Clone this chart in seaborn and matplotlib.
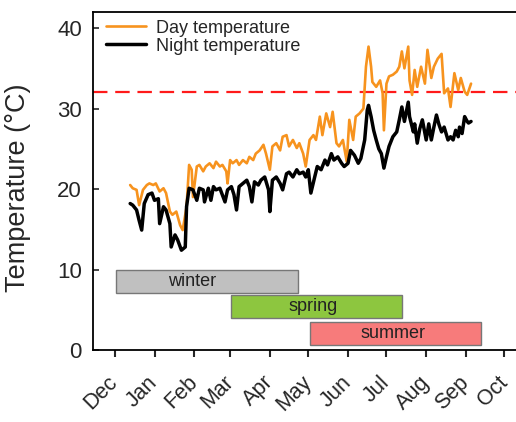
import numpy as np
import pandas as pd
import matplotlib
matplotlib.use("Agg")
import matplotlib.pyplot as plt
from matplotlib.lines import Line2D
import seaborn as sns

# ---- data (days since 1 Dec) ----
day_days = [12, 14, 17, 19, 22, 25, 27, 30, 32, 35, 38, 40, 43, 45, 48, 51, 53, 56, 58, 60,
            61, 64, 66, 69, 71, 74, 77, 79, 82, 84, 87, 88, 90, 92, 95, 97, 100, 103, 105, 108,
            110, 113, 116, 118, 121, 123, 126, 129, 131, 134, 136, 139, 142, 144, 147, 149, 152,
            155, 157, 160, 162, 165, 168, 170, 173, 175, 178, 181, 183, 186, 188, 191, 194, 196,
            198, 200, 201, 204, 207, 209, 210, 212, 214, 217, 220, 222, 224, 226, 229, 230, 232,
            234, 236, 239, 242, 244, 247, 249, 252, 255, 257, 260, 262, 265, 268, 270, 273, 275, 278]
day_temp = [20.5, 20.1, 19.9, 18.0, 19.9, 20.5, 20.7, 20.5, 20.7, 19.7, 20.1, 19.5, 17.2, 16.8,
            17.2, 15.5, 14.9, 17.8, 23.0, 22.4, 19.0, 22.8, 23.0, 22.2, 22.8, 23.2, 22.6, 23.4,
            22.8, 23.0, 22.2, 20.7, 23.6, 23.2, 23.6, 23.0, 23.6, 23.2, 24.0, 23.6, 24.4, 24.8,
            25.5, 24.4, 22.4, 25.3, 25.7, 24.8, 26.5, 26.7, 25.3, 26.1, 25.1, 25.7, 24.4, 22.8,
            26.1, 26.7, 26.1, 29.0, 26.7, 29.4, 27.7, 29.6, 25.7, 25.3, 26.1, 23.4, 28.6, 26.1,
            29.0, 29.4, 30.0, 35.2, 37.7, 35.2, 33.3, 32.7, 33.5, 31.9, 27.3, 33.1, 34.0, 34.2,
            34.6, 35.2, 37.1, 35.0, 37.7, 33.5, 31.7, 34.8, 32.7, 35.2, 33.1, 37.3, 33.8, 35.2,
            36.2, 36.8, 31.9, 32.5, 30.2, 34.4, 32.3, 33.8, 32.1, 31.7, 33.1]

night_days = [12, 14, 17, 19, 21, 23, 26, 29, 31, 34, 35, 38, 40, 43, 44, 47, 49, 52, 55, 56,
              58, 61, 64, 66, 69, 70, 73, 75, 77, 79, 82, 86, 88, 91, 93, 95, 97, 100, 103, 105,
              107, 109, 112, 114, 117, 120, 121, 123, 126, 129, 131, 134, 136, 139, 142, 144, 147,
              149, 151, 153, 156, 158, 161, 164, 166, 169, 171, 174, 177, 179, 182, 184, 187, 190,
              192, 195, 197, 198, 200, 202, 204, 206, 208, 210, 212, 214, 217, 220, 222, 224, 226,
              229, 230, 233, 234, 236, 238, 240, 243, 245, 247, 249, 251, 253, 255, 257, 260, 262,
              264, 266, 268, 269, 271, 273, 275, 276, 278]
night_temp = [18.2, 18.0, 17.4, 16.1, 14.9, 18.2, 19.3, 19.5, 18.6, 18.8, 15.7, 17.8, 17.4, 15.7,
              12.8, 14.3, 13.7, 12.4, 12.8, 17.8, 20.1, 19.9, 18.6, 20.1, 19.9, 18.4, 20.1, 18.6,
              20.3, 19.9, 20.1, 18.4, 19.9, 20.3, 19.3, 17.4, 20.3, 20.7, 21.1, 20.3, 18.4, 20.9,
              20.5, 21.1, 21.5, 19.9, 17.2, 21.1, 21.5, 20.7, 19.9, 21.9, 22.1, 21.5, 22.4, 21.9,
              22.1, 21.5, 22.4, 19.5, 21.5, 22.8, 22.4, 23.6, 23.0, 24.4, 23.6, 24.0, 23.2, 22.8,
              23.2, 24.8, 24.2, 23.2, 23.8, 26.1, 29.8, 30.4, 29.0, 27.3, 26.1, 25.0, 24.4, 22.6,
              24.0, 25.3, 26.5, 27.1, 28.6, 30.2, 28.4, 30.8, 29.0, 27.1, 28.1, 25.7, 27.5, 28.6,
              26.1, 28.1, 26.1, 27.7, 29.2, 28.0, 27.1, 27.7, 26.1, 26.5, 26.1, 27.3, 26.5, 27.7,
              26.9, 29.0, 28.4, 28.2, 28.4]

threshold = 32

months = ["Dec", "Jan", "Feb", "Mar", "Apr", "May", "Jun", "Jul", "Aug", "Sep", "Oct"]
month_lengths = [31, 31, 28, 31, 30, 31, 30, 31, 31, 30, 31]

seasons = ["winter", "spring", "summer"]
season_start = [1, 91, 152]
season_end = [143, 224, 286]
season_colors = ["#c0c0c0", "#8dc63f", "#f77b7b"]

# ---- figure ----
sns.set_theme(style="ticks")
plt.rcParams["font.family"] = ["Liberation Sans", "DejaVu Sans"]

fig = plt.figure(figsize=(5.16, 4.22), dpi=100)
ax = fig.add_axes([93 / 516, 72 / 422, 437 / 516, 338 / 422])

df = pd.concat([
    pd.DataFrame({"day": day_days, "temp": day_temp, "series": "Day temperature"}),
    pd.DataFrame({"day": night_days, "temp": night_temp, "series": "Night temperature"}),
])
sns.lineplot(data=df, x="day", y="temp", hue="series",
             palette={"Day temperature": "#f7931e", "Night temperature": "black"},
             ax=ax, legend=False, estimator=None, sort=True)
lines = ax.get_lines()
lines[0].set_linewidth(1.9)
lines[1].set_linewidth(2.5)

ax.axhline(threshold, color="#ff1a1a", lw=1.6, ls=(0, (6.5, 3.5)), zorder=1)

# season boxes
y_levels = [(7.1, 9.9), (4.0, 6.8), (0.66, 3.5)]
text_x = [60, 155, 217]
for name, s, e, c, (y0, y1), tx in zip(seasons, season_start, season_end, season_colors, y_levels, text_x):
    ax.add_patch(plt.Rectangle((s, y0), e - s, y1 - y0, facecolor=c,
                               edgecolor="#777777", lw=1.0, zorder=2))
    ax.text(tx, (y0 + y1) / 2, name, ha="center", va="center", fontsize=13,
            color="#222222", zorder=3)

ticks = np.concatenate([[0], np.cumsum(month_lengths[:-1])])
ax.set_xticks(ticks)
ax.set_xticklabels(months, rotation=45, ha="right", va="center", rotation_mode="anchor",
                   fontsize=15.5)
ax.set_xlim(-17, 324)
ax.set_ylim(0, 42)
ax.set_yticks([0, 10, 20, 30, 40])
ax.tick_params(axis="y", direction="in", length=4, width=1.2, labelsize=16, pad=8)
ax.tick_params(axis="x", direction="out", length=5, width=1.5, pad=16)
for sp in ax.spines.values():
    sp.set_linewidth(1.3)
    sp.set_color("black")
ax.set_xlabel("")
ax.set_ylabel("Temperature (°C)", fontsize=19.5)
ax.yaxis.set_label_coords(-0.142, 0.479)

handles = [Line2D([], [], color="#f7931e", lw=1.9), Line2D([], [], color="black", lw=2.5)]
ax.legend(handles, ["Day temperature", "Night temperature"], loc="upper left",
          bbox_to_anchor=(0.03, 0.977), frameon=False, fontsize=13, handlelength=2.2,
          handletextpad=0.55, borderpad=0, labelspacing=0.05, borderaxespad=0)

fig.savefig("out.png", dpi=100)
